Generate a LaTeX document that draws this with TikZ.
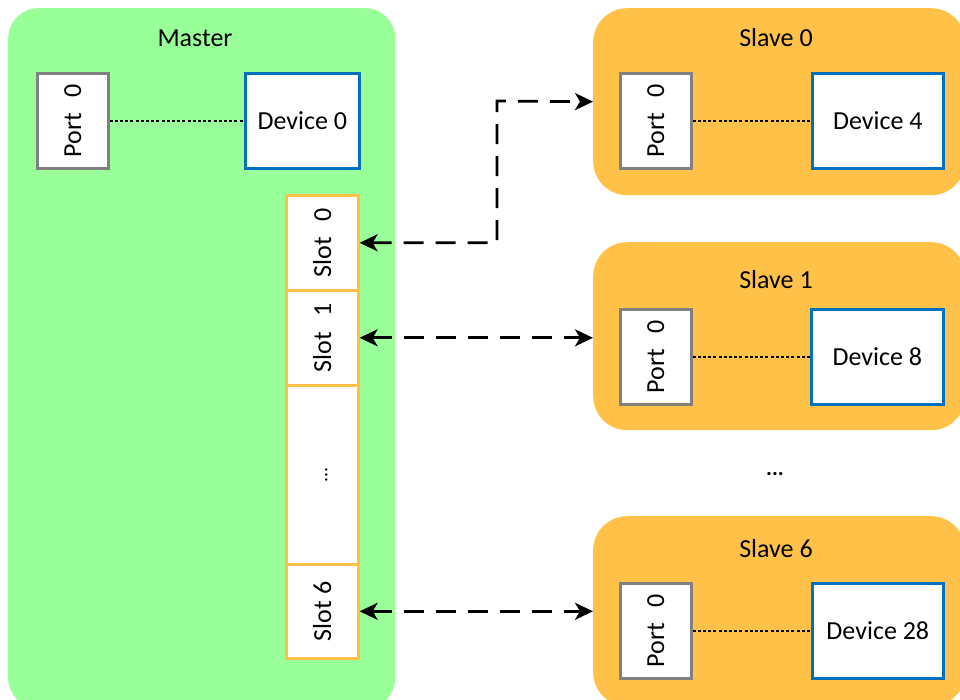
\documentclass[tikz,border=0pt]{standalone}
\usepackage{fontspec}
\setmainfont{Carlito}
\usetikzlibrary{arrows.meta,calc}

\definecolor{mastergreen}{HTML}{99FF99}
\definecolor{slaveorange}{HTML}{FFC147}
\definecolor{devblue}{HTML}{0070C0}
\definecolor{portgray}{HTML}{808080}
\definecolor{slotorange}{HTML}{FFBF47}

\tikzset{
  every node/.style={font=\fontsize{26}{30}\selectfont, inner sep=0pt},
  masterbox/.style={fill=mastergreen, rounded corners=30pt, anchor=north west},
  slavebox/.style={fill=slaveorange, rounded corners=34pt, anchor=north west},
  portbox/.style={draw=portgray, line width=2.6pt, fill=white, anchor=north west,
                  minimum width=71pt, minimum height=95pt},
  devbox/.style={draw=devblue, line width=2.6pt, fill=white, anchor=north west,
                 minimum height=95pt},
  slotbox/.style={draw=slotorange, line width=2.6pt, fill=white, anchor=north west,
                  minimum width=72pt},
  vlabel/.style={rotate=90},
  link/.style={line width=2.2pt, dash pattern=on 3pt off 2.2pt},
  bus/.style={line width=2.8pt, dash pattern=on 20pt off 12pt,
              {Stealth[length=18pt,width=17pt,inset=5pt]}-{Stealth[length=18pt,width=17pt,inset=5pt]}},
}

\begin{document}
\begin{tikzpicture}[x=1pt,y=-1pt]
\useasboundingbox (0,0) rectangle (960,699);
\clip (0,0) rectangle (960,699);

% ---------------- Master ----------------
\node[masterbox, minimum width=387pt, minimum height=700pt] (master) at (8,8) {};
\node (mlabel) at (195,38) {Master};
\node[portbox] (mport) at (36,72) {};
\node[vlabel] at (mport.center) {Port\hspace{0.6em}0};
\node[devbox, minimum width=114pt] (mdev) at (244,72) {Device 0};
\draw[link] (mport.east) -- (mdev.west);

% slot column
\node[slotbox, minimum height=95pt] (slot0) at (285,194) {};
\node[vlabel] at (slot0.center) {Slot\hspace{0.6em}0};
\node[slotbox, minimum height=95pt] (slot1) at (285,289) {};
\node[vlabel] at (slot1.center) {Slot\hspace{0.6em}1};
\node[slotbox, minimum height=179pt] (slotdots) at (285,384) {};
\node[vlabel, font=\fontsize{20}{22}\selectfont] at ($(slotdots.center)+(4,0)$) {...};
\node[slotbox, minimum height=94pt] (slot6) at (285,563) {};
\node[vlabel] at (slot6.center) {Slot 6};

% ---------------- Slaves ----------------
% Slave 0
\node[slavebox, minimum width=372pt, minimum height=187pt] (s0) at (593,8) {};
\node (s0label) at (776,38) {Slave 0};
\node[portbox] (s0port) at (619,72) {};
\node[vlabel] at (s0port.center) {Port\hspace{0.6em}0};
\node[devbox, minimum width=131pt] (s0dev) at (811,72) {Device 4};
\draw[link] (s0port.east) -- (s0dev.west);

% Slave 1
\node[slavebox, minimum width=372pt, minimum height=188pt] (s1) at (593,242) {};
\node (s1label) at (776,280) {Slave 1};
\node[portbox] (s1port) at (619,308) {};
\node[vlabel] at (s1port.center) {Port\hspace{0.6em}0};
\node[devbox, minimum width=132pt] (s1dev) at (810,308) {Device 8};
\draw[link] (s1port.east) -- (s1dev.west);

% Slave 6
\node[slavebox, minimum width=372pt, minimum height=190pt] (s6) at (593,516) {};
\node (s6label) at (776,549) {Slave 6};
\node[portbox] (s6port) at (619,582) {};
\node[vlabel] at (s6port.center) {Port\hspace{0.6em}0};
\node[devbox, minimum width=131pt] (s6dev) at (811,582) {Device 28};
\draw[link] (s6port.east) -- (s6dev.west);

\node[font=\fontsize{22}{24}\selectfont\bfseries] (gap) at (775,474) {...};

% ---------------- Connections ----------------
\coordinate (bend) at (497,101);
\draw[bus] (slot0.east) -| (bend) -- (s0.west);
\draw[bus] (slot1.east) -- (slot1.east -| s1.west);
\draw[bus] (slot6.east) -- (slot6.east -| s6.west);
\end{tikzpicture}
\end{document}
